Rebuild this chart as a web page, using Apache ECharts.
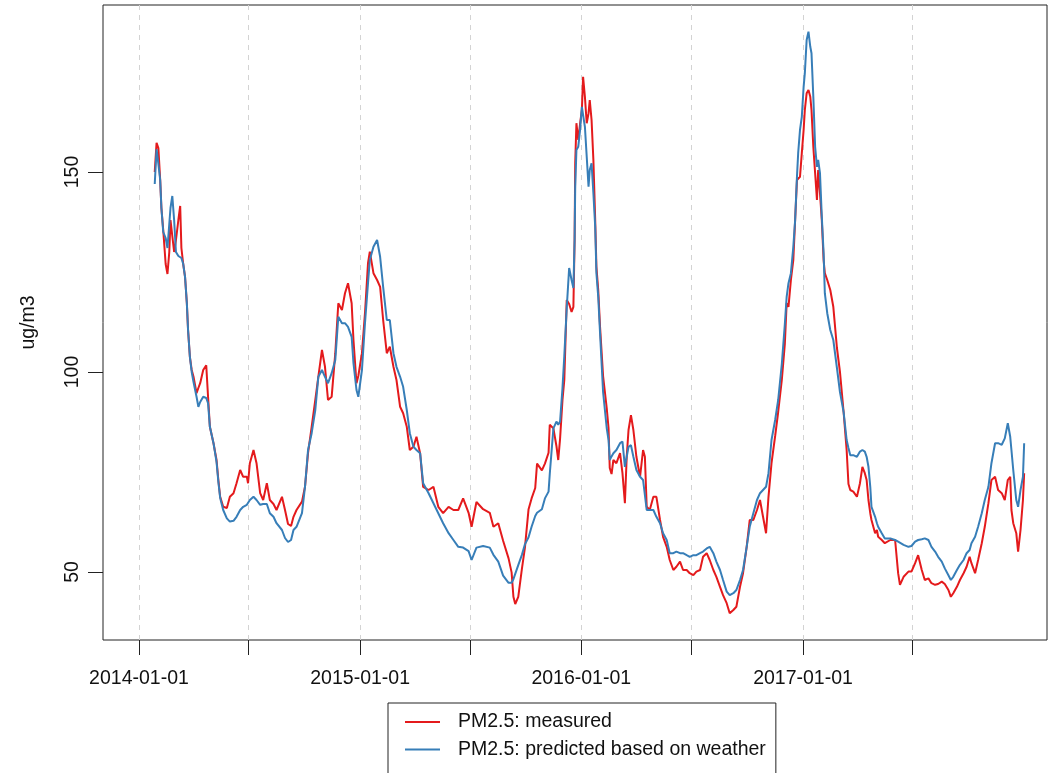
<!DOCTYPE html>
<html><head><meta charset="utf-8">
<script src="https://cdn.jsdelivr.net/npm/echarts@6/dist/echarts.min.js"></script>
<style>html,body{margin:0;padding:0;background:#fff}#c{width:1051px;height:773px}</style>
</head><body><div id="c"></div>
<script>
// days since 2014-01-01
const dayOffsets = [26,29,32,35,37,40,44,47,50,52,55,58,61,65,68,70,73,76,79,81,84,87,90,95,98,101,106,111,114,117,123,128,131,134,139,145,150,156,161,167,172,178,180,183,189,194,200,205,211,216,222,227,236,241,246,251,255,260,269,274,279,285,291,296,302,307,312,318,324,329,335,340,345,351,354,359,362,368,373,378,381,387,393,398,403,409,414,420,425,431,436,442,447,453,458,464,469,478,486,494,502,511,519,527,535,544,549,557,568,579,585,593,601,610,615,618,621,626,632,637,643,648,654,657,665,670,676,678,684,689,692,695,699,702,706,710,714,717,719,720,722,725,728,731,733,736,739,742,744,747,750,753,755,758,761,766,772,775,777,780,783,788,794,798,802,805,808,812,816,821,827,832,835,838,843,849,854,860,865,871,876,882,887,893,898,904,909,915,920,926,931,937,942,948,953,959,964,970,975,981,986,992,997,1003,1008,1014,1020,1025,1030,1035,1039,1044,1050,1055,1061,1066,1069,1072,1076,1080,1083,1086,1088,1091,1094,1097,1099,1102,1105,1108,1110,1113,1116,1119,1121,1124,1127,1130,1132,1136,1141,1146,1152,1157,1163,1168,1171,1174,1179,1185,1190,1194,1198,1201,1204,1207,1209,1215,1218,1220,1226,1231,1240,1248,1253,1256,1262,1270,1275,1281,1286,1292,1297,1303,1308,1314,1319,1325,1330,1336,1340,1344,1350,1355,1361,1366,1371,1374,1380,1385,1391,1396,1402,1407,1413,1418,1424,1429,1434,1438,1440,1443,1448,1451,1455,1459,1461];
const measured = [150,157.3,156,148,141,135.5,127,124.5,130,138,134,130,133,138,141.5,131,127,123.8,117.2,110.5,103.8,100.5,98.8,94.7,96,97.2,100.5,101.7,93.8,86.3,82.2,78,73,68.8,66.3,66,68.8,69.7,72.2,75.5,73.8,73.8,72.2,77.2,80.5,77.2,69.7,68,72.2,68,67,65.5,68.8,65.5,62,61.5,63.8,65.5,67.6,71.3,79.7,86.3,93,98.8,105.5,101.3,93,93.8,104.7,117.2,115.5,119.7,122.2,117.2,108,97.2,99,104.7,114.7,127.2,130.1,124.7,123,121.3,113,104.7,106.3,101.3,98,91.3,89.7,86.3,80.5,81.3,83.8,79.7,71.3,70.5,71.3,66.3,64.7,66.3,65.5,65.5,68.4,64.8,61.3,67.5,65.7,64.8,61.3,62.2,57.8,53.4,49.9,43.8,42,43.8,50.8,56.1,65.7,68.4,71,77.1,75.4,77.1,79.8,86.8,85.9,81.5,78,83.3,93,98,118,117,115,116.3,133,152.2,162.2,158,162,165.5,173.8,168.8,162.2,164.7,168,163,153,138,126.3,120.5,111.3,99,91,86,76,74.5,78,77.2,79.7,74.7,67.2,78.8,85.5,89.2,85.5,78.8,73.8,80.5,78.8,66.3,65.5,68.8,68.8,63,58.8,56.3,53,50.5,51.3,52.6,50.5,50.5,49.7,49.2,50.1,50.5,53.8,54.7,53,50.5,48.8,46.3,44.2,42.2,39.7,40.5,41.3,46.3,49.7,56.3,63,63,65.5,68,63.8,59.7,68.8,77.2,84,90,98,107,117.2,116.3,123,128,138,148,148,148.8,154.7,160.5,165.5,169.7,170.5,168.8,165.5,156.3,149.7,143,150.5,144.7,138,128,124.7,123,120.5,116.3,106,100,90,80.5,72,70.5,70.1,68.8,72.2,76.3,74.7,73,68,64.7,63,59.7,60.5,58.8,58,57.2,58,58,49.7,46.8,48.8,50.1,50.1,52.2,54.2,50.5,48,48.4,47.2,46.8,47,47.6,47,45.5,43.8,44.7,46.3,48,49.7,51.3,53.8,52.2,49.7,53,57.2,61.3,67.2,73,73.8,70.5,69.7,68,73,73.8,65.5,62.2,59.7,55.1,60.5,68,74.7];
const predicted = [147,155.7,152,148,141,135,133.5,131,137,141,144,138,130,129,128.8,128.5,127,123.8,117.2,110.5,103.8,100,97.5,93.8,91.3,92.5,93.8,93.5,92.2,86.3,82.2,77.5,72.5,68.5,65.5,63.4,62.6,62.8,63.8,65.5,66.3,66.8,67.2,68,68.8,68,66.8,67,67,64.7,63.8,62.2,60.5,58.5,57.5,58,60.5,61.3,64.7,71.3,80.5,84.7,90.5,98.8,100.5,98.8,97.2,99.7,103,113.8,112.2,112.2,111.3,108.8,102.2,95.5,93.8,100.5,112.2,122.2,128,131.3,133,128.8,121.3,113,113,104.7,101.3,98.8,96.3,90.5,84.7,81.3,80.5,79.7,72.2,69.7,67.2,64.7,62.2,59.7,58,56.3,56.1,55.2,53,56.1,56.5,56.1,54.3,52.6,49.1,47.3,47.3,48.2,48.6,51.7,54.3,56.9,58.7,61.3,64,64.8,65.7,68.4,70.1,74.5,85.9,87.6,86.8,87.6,96,104,116,126,123,121,133,146.3,155.5,156.3,160.5,166.3,166.3,161.3,153.8,146.3,150.5,152.2,144.7,136.3,124.7,118.8,109.7,95,86,83,78,78.9,79.7,80.5,82.2,82.6,76.3,78.8,81.3,81.7,78.8,75.5,73.8,73,73,65.5,65.5,65.5,63.8,62.2,59.7,58,54.7,54.7,55.1,54.7,54.7,54.2,53.8,54.2,54.2,54.7,55.1,55.9,56.3,54.7,52.6,50.5,48,45.1,44.2,44.7,45.5,48,50.5,56.3,61.3,64.7,68,69.7,70.5,71.3,74.7,83,88,93,102,112,118.8,122.2,124.7,131.3,138,148.8,154.7,160.5,163.8,171.3,174.7,183,185.1,181.3,179.7,168.8,156.3,151.3,153,149.7,138.8,129.7,119.7,114.7,110.5,108,101,95,90,83,81,79.2,79.2,78.8,80.1,80.5,80.1,78.8,76.3,71.3,66.3,63.8,62.2,61.3,59.7,58.4,58.4,58,57.6,57.2,56.8,56.3,56.5,57.6,58,58.2,58.4,58,56.3,55.1,53.8,52.6,50.9,49.2,48,48.8,50.5,51.8,53,54.7,55.5,57.2,58.8,61.3,64.7,68,71.3,77.2,82.2,82.2,81.8,83.4,87.2,83.8,80.5,75.5,68,66.3,70.5,73.8,82.2];
const seriesNames = ['PM2.5: measured', 'PM2.5: predicted based on weather'];
const tickDates = ['2014-01-01','2014-07-01','2015-01-01','2015-07-01','2016-01-01','2016-07-01','2017-01-01','2017-07-01'];
const labelDates = ['2014-01-01','2015-01-01','2016-01-01','2017-01-01'];
const yTicks = [50, 100, 150];
const yName = 'ug/m3';

const DAY = 86400000;
function ts(s){ const p = s.split('-'); return Date.UTC(+p[0], +p[1]-1, +p[2]); }
const t0 = ts('2014-01-01');
const toPts = vals => dayOffsets.map((d, i) => [t0 + d*DAY, vals[i]]);
function pad(n){ return (n < 10 ? '0' : '') + n; }
const FONT = "'Liberation Sans', Arial, Helvetica, sans-serif";
const FS = 19.5;

const chart = echarts.init(document.getElementById('c'), null, {renderer:'canvas'});
chart.setOption({
  animation: false,
  backgroundColor: '#fff',
  textStyle: {fontFamily: FONT},
  grid: {left: 103, right: 4, top: 5, bottom: 133, show: true, borderColor: '#222', borderWidth: 1, containLabel: false},
  legend: {
    orient: 'vertical', left: 388, top: 703, height: 50, width: 362,
    padding: [9, 10, 40, 17],
    borderColor: '#222', borderWidth: 1, backgroundColor: '#fff',
    itemWidth: 35, itemHeight: 2, itemGap: 7.5, icon: 'rect',
    textStyle: {fontSize: FS, color: '#111', fontFamily: FONT, padding: [0, 0, 0, 13]},
    data: seriesNames
  },
  xAxis: {
    type: 'value',
    min: t0 - 59.4*DAY, max: t0 + 1498.7*DAY,
    axisLine: {show: false},
    axisTick: {show: true, length: 15, lineStyle: {color: '#222'}, customValues: tickDates.map(ts)},
    axisLabel: {
      customValues: labelDates.map(ts), fontSize: FS, color: '#111', margin: 29, fontFamily: FONT,
      formatter: v => { const d = new Date(v); return d.getUTCFullYear() + '-' + pad(d.getUTCMonth()+1) + '-' + pad(d.getUTCDate()); }
    },
    splitLine: {show: true, lineStyle: {color: '#d3d3d3', type: [5, 5], width: 1}}
  },
  yAxis: {
    type: 'value', min: 33, max: 191.75,
    name: yName, nameLocation: 'middle', nameRotate: 90, nameGap: 64,
    nameTextStyle: {fontSize: FS, color: '#111', fontFamily: FONT},
    axisLine: {show: false},
    axisTick: {show: true, length: 15, lineStyle: {color: '#222'}, customValues: yTicks},
    axisLabel: {customValues: yTicks, rotate: 90, margin: 20, fontSize: FS, color: '#111', fontFamily: FONT},
    splitLine: {show: false}
  },
  series: [
    {name: seriesNames[0], type: 'line', data: toPts(measured), showSymbol: false, symbol: 'none',
     lineStyle: {color: '#E41A1C', width: 2}, itemStyle: {color: '#E41A1C'}, z: 2},
    {name: seriesNames[1], type: 'line', data: toPts(predicted), showSymbol: false, symbol: 'none',
     lineStyle: {color: '#377EB8', width: 2}, itemStyle: {color: '#377EB8'}, z: 3}
  ]
});
</script></body></html>
